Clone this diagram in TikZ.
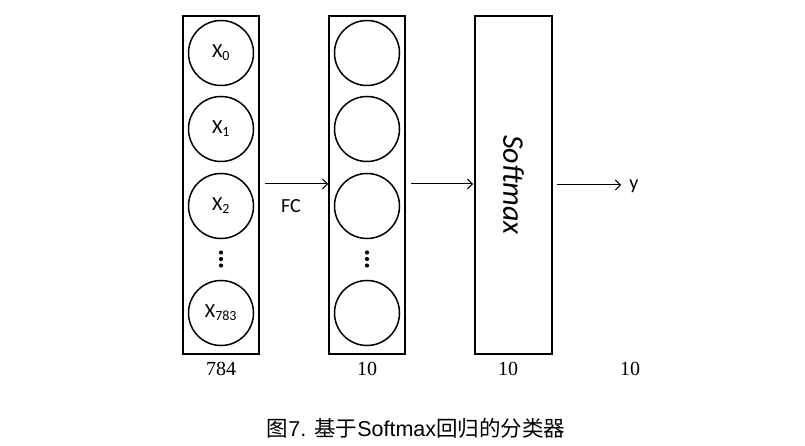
\documentclass[tikz,border=0pt]{standalone}
\usepackage{fontspec}
\usetikzlibrary{arrows.meta}
\setmainfont{Liberation Serif}
\newfontfamily\calib{Carlito}
\newfontfamily\arialf{Liberation Sans}
\newfontfamily\cjk{Noto Sans CJK SC}
\begin{document}
\begin{tikzpicture}[x=1pt,y=-1pt,
  layerbox/.style={draw,line width=1.8pt},
  neuron/.style={draw,circle,line width=1.5pt,minimum size=65pt,inner sep=0pt,font=\calib\fontsize{20}{22}\selectfont},
  conn/.style={-{Straight Barb[length=5pt,width=10pt,line width=1pt]},line width=1pt},
  numlbl/.style={font=\fontsize{20}{22}\selectfont},
  vdot/.style={fill,circle,inner sep=0pt,minimum size=4.2pt}]
\useasboundingbox (0,0) rectangle (805,446);
% layer boxes
\draw[layerbox] (183,16) rectangle (259,354);
\draw[layerbox] (329,16) rectangle (405,354);
\node[layerbox,minimum width=77pt,minimum height=338pt,inner sep=0pt] (sm) at (513.5,185) {};
\node[rotate=-90,font=\calib\itshape\fontsize{30}{32}\selectfont] (smt) at (513.5,185) {Softmax};
% input neurons
\node[neuron] (x0) at (221,53) {X\textsubscript{0}};
\node[neuron] (x1) at (221,129) {X\textsubscript{1}};
\node[neuron] (x2) at (221,206) {X\textsubscript{2}};
\node[neuron] (x783) at (221,313) {X\textsubscript{783}};
\node[vdot] (d1a) at (221,252.5) {};
\node[vdot] (d1b) at (221,259) {};
\node[vdot] (d1c) at (221,265.5) {};
% hidden neurons
\node[neuron] (h0) at (367,53) {};
\node[neuron] (h1) at (367,129) {};
\node[neuron] (h2) at (367,206) {};
\node[neuron] (h9) at (367,313) {};
\node[vdot] (d2a) at (367,252.5) {};
\node[vdot] (d2b) at (367,259) {};
\node[vdot] (d2c) at (367,265.5) {};
% connectors
\coordinate (a1s) at (265,184);
\coordinate (a1e) at (328,184);
\coordinate (a2s) at (411,184);
\coordinate (a3s) at (557,185);
\coordinate (a3e) at (621,185);
\draw[conn] (a1s) -- (a1e);
\draw[conn] (a2s) -- ([xshift=-1pt]sm.west |- a2s);
\draw[conn] (a3s) -- (a3e);
\node[font=\calib\fontsize{20}{22}\selectfont] (yl) at (634,186) {y};
\node[font=\calib\fontsize{20}{22}\selectfont] (fc) at (291,206) {FC};
% numbers
\node[numlbl] (n1) at (221,369) {784};
\node[numlbl] (n2) at (367,369) {10};
\node[numlbl] (n3) at (508,369) {10};
\node[numlbl] (n4) at (630,369) {10};
% caption
\node[font=\fontsize{21.5}{24}\selectfont] (cap) at (416,428) {\cjk 图\arialf 7. \cjk 基于\arialf Softmax\cjk 回归的分类器};
\end{tikzpicture}
\end{document}
